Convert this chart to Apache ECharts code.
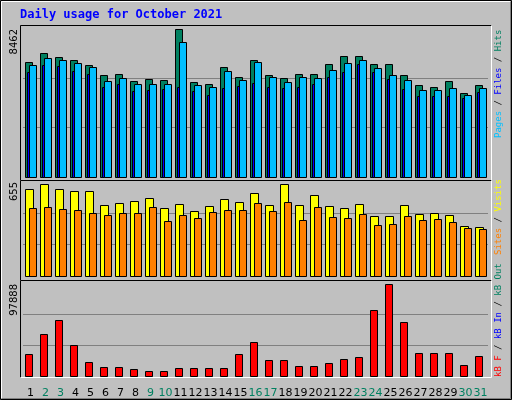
<!DOCTYPE html>
<html><head><meta charset="utf-8">
<script src="https://cdn.jsdelivr.net/npm/echarts@6/dist/echarts.min.js"></script>
<style>html,body{margin:0;padding:0;background:#c0c0c0}#c{width:512px;height:400px}</style>
</head><body><div id="c"></div>
<script>
const days = ['1','2','3','4','5','6','7','8','9','10','11','12','13','14','15','16','17','18','19','20','21','22','23','24','25','26','27','28','29','30','31'];
const weekend = ['2','3','9','10','16','17','23','24','30','31'];
const hits  = [6567,7083,6854,6681,6394,5820,5877,5475,5590,5533,8462,5418,5303,6279,5705,6681,5820,5648,5877,5877,6452,6911,6911,6452,6452,5820,5246,5131,5475,4786,5246];
const files = [6394,6797,6682,6509,6280,5475,5648,5303,5303,5303,7715,5246,5131,6050,5533,6567,5705,5418,5705,5648,6107,6509,6682,6222,5820,5533,4959,4959,5073,4671,5073];
const pages = [5992,6394,6337,6050,5877,5131,5303,4901,4959,5016,5131,4901,4671,5073,5188,5360,5131,5073,5131,5303,5705,5992,6452,5992,5590,5016,4614,4614,4614,4499,4844];
const visits= [604,639,604,590,590,493,507,521,542,472,500,451,486,535,514,576,493,639,493,562,486,472,500,417,417,493,430,437,424,347,340];
const sites = [472,479,465,458,437,424,437,437,479,382,424,403,444,458,458,507,451,514,389,479,410,403,430,354,361,417,389,396,375,333,326];
const kbF   = [23140,44500,59450,32750,14600,9256,9256,7120,4984,4984,8188,8188,8188,8188,23140,35956,16732,16732,10324,10324,13528,17800,19936,70132,97888,57316,24208,24208,24208,11392,21004];
const maxTop = 8462, maxMid = 655, maxBot = 97888;

const chart = echarts.init(document.getElementById('c'));
const L = 23, R = 512-488;
function bars(xi, data, color, off, w, z){
  return {type:'custom', xAxisIndex:xi, yAxisIndex:xi, z:z,
    data: data.map((v,i)=>[i,v]),
    renderItem:(p,api)=>{
      const t = api.coord([api.value(0), api.value(1)]);
      const b = api.coord([api.value(0), 0]);
      return {type:'rect', shape:{x:Math.round(t[0]+off)+0.5, y:Math.round(t[1])+0.5, width:w, height:Math.round(b[1]-t[1])},
        style:{fill:color, stroke:'#000', lineWidth:1}};
    }};
}
function yax(gi, max){
  return {gridIndex:gi, type:'value', min:0, max:max, interval:max/3,
    axisLabel:{show:false}, axisLine:{show:false}, axisTick:{show:false},
    splitLine:{show:true, lineStyle:{color:['rgba(0,0,0,0)','#808080','#808080','rgba(0,0,0,0)'], width:1}}};
}
function xax(gi, show){
  return {gridIndex:gi, type:'category', data:days, axisLine:{show:false}, axisTick:{show:false},
    axisLabel:{show:show, interval:0, margin:12, fontFamily:'DejaVu Sans', fontSize:11,
      color:(v)=> weekend.includes(v) ? '#008060' : '#000'}};
}
function frame(y1,y2){
  return [
    {type:'rect', z:-1, shape:{x:20.5,y:y1+0.5,width:471,height:y2-y1}, style:{fill:'#c0c0c0', stroke:null}},
    {type:'polyline', z:0, shape:{points:[[20.5,y2+0.5],[20.5,y1+0.5],[491.5,y1+0.5]]}, style:{stroke:'#000', lineWidth:1, fill:null}},
    {type:'polyline', z:0, shape:{points:[[491.5,y1+0.5],[491.5,y2+0.5],[20.5,y2+0.5]]}, style:{stroke:'#fff', lineWidth:1, fill:null}}
  ];
}
const mono = 'DejaVu Sans Mono';
function vtext(x,y,rich,parts){
  return {type:'text', x:x, y:y, rotation:Math.PI/2,
    style:{text:parts, rich:rich, fontFamily:mono, fontSize:9, align:'left', verticalAlign:'middle'}};
}
const rich = {
  c:{fill:'#00c0ff',fontFamily:mono,fontSize:9}, b:{fill:'#0000ff',fontFamily:mono,fontSize:9},
  g:{fill:'#008060',fontFamily:mono,fontSize:9}, k:{fill:'#000',fontFamily:mono,fontSize:9},
  y:{fill:'#ffff00',fontFamily:mono,fontSize:9}, o:{fill:'#ff8000',fontFamily:mono,fontSize:9},
  r:{fill:'#ff0000',fontFamily:mono,fontSize:9}
};
chart.setOption({
  backgroundColor:'#c0c0c0', animation:false,
  grid:[
    {left:L, right:R, top:29, height:148},
    {left:L, right:R, top:182, height:94},
    {left:L, right:R, top:284, height:92}
  ],
  xAxis:[xax(0,false), xax(1,false), xax(2,true)],
  yAxis:[yax(0,maxTop), yax(1,maxMid), yax(2,maxBot)],
  series:[
    bars(0,hits,'#008060',-5.5,7,2),
    bars(0,pages,'#0000ff',-3.5,3,3),
    bars(0,files,'#00bfff',-1.5,7,4),
    bars(1,visits,'#ffff00',-5.5,8,2),
    bars(1,sites,'#ff8000',-1.5,7,3),
    bars(2,kbF,'#ff0000',-5.5,7,2)
  ],
  graphic:[
    {type:'rect', z:-2, shape:{x:0.5,y:0.5,width:511,height:399}, style:{fill:'#c0c0c0', stroke:'#000'}},
    {type:'polyline', z:-1, shape:{points:[[1.5,398.5],[1.5,1.5],[510.5,1.5]]}, style:{stroke:'#fff', fill:null}},
    {type:'polyline', z:-1, shape:{points:[[510.5,1.5],[510.5,398.5],[1.5,398.5]]}, style:{stroke:'#808080', fill:null}},
    ...frame(25,180), ...frame(180,280), ...frame(280,377),
    {type:'text', x:20, y:9, style:{text:'Daily usage for October 2021', fill:'#0000ff', fontFamily:mono, fontWeight:'bold', fontSize:12}},
    {type:'text', x:14, y:29, rotation:Math.PI/2, style:{text:String(maxTop), fill:'#000', fontFamily:'DejaVu Sans', fontSize:10, align:'right', verticalAlign:'middle'}},
    {type:'text', x:14, y:182, rotation:Math.PI/2, style:{text:String(maxMid), fill:'#000', fontFamily:'DejaVu Sans', fontSize:10, align:'right', verticalAlign:'middle'}},
    {type:'text', x:14, y:284, rotation:Math.PI/2, style:{text:String(maxBot), fill:'#000', fontFamily:'DejaVu Sans', fontSize:10, align:'right', verticalAlign:'middle'}},
    vtext(499,138,rich,'{c|Pages}{k| / }{b|Files}{k| / }{g|Hits}'),
    vtext(499,255,rich,'{o|Sites}{k| / }{y|Visits}'),
    vtext(499,377,rich,'{r|kB F}{k| / }{b|kB In}{k| / }{g|kB Out}')
  ]
});
</script></body></html>
